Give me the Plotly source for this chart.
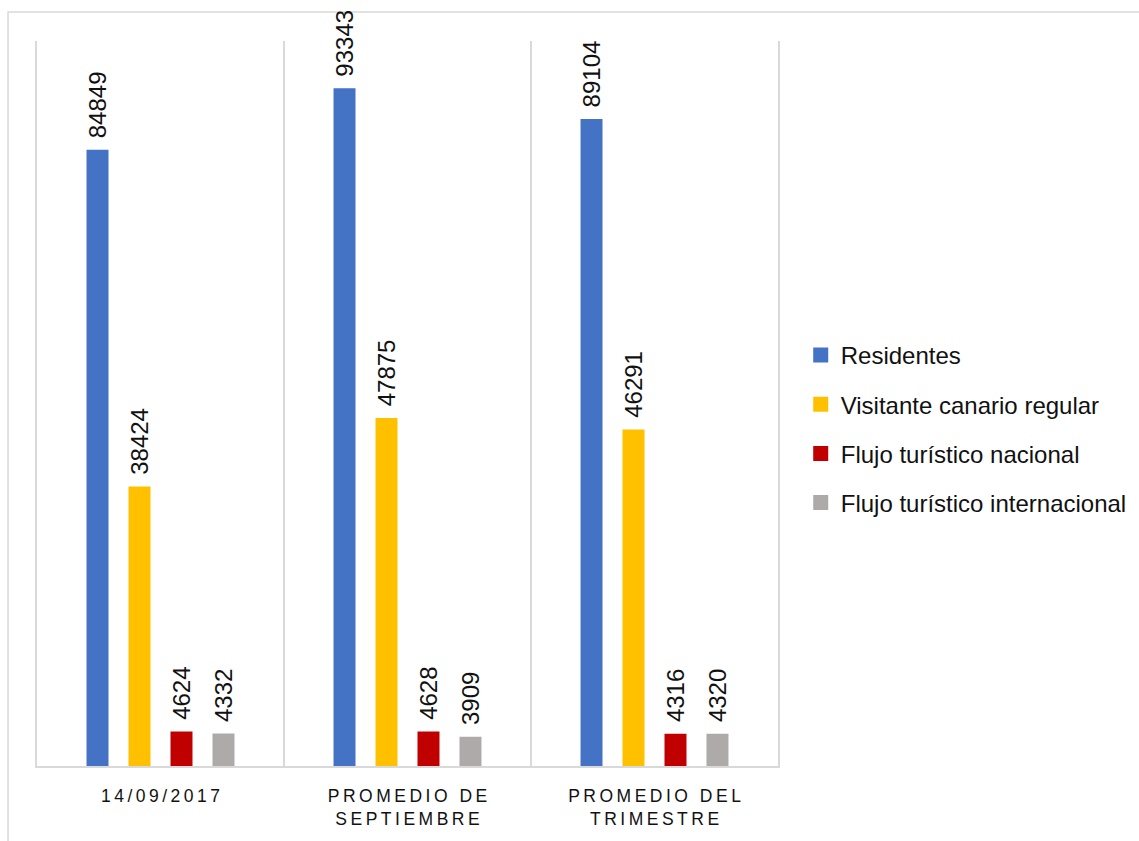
import plotly.graph_objects as go

# Categories (axis labels) and the four visitor series
categories = ["14/09/2017", "PROMEDIO DE<br>SEPTIEMBRE", "PROMEDIO DEL<br>TRIMESTRE"]
series_names = [
    "Residentes",
    "Visitante canario regular",
    "Flujo turístico nacional",
    "Flujo turístico internacional",
]
residentes = [84849, 93343, 89104]
visitante_canario = [38424, 47875, 46291]
flujo_nacional = [4624, 4628, 4316]
flujo_internacional = [4332, 3909, 4320]

series_values = [residentes, visitante_canario, flujo_nacional, flujo_internacional]
series_colors = ["#4472C4", "#FFC000", "#C00000", "#AEAAAA"]

FONT = "Arial, 'Liberation Sans', sans-serif"


def spaced(label):
    """Widen the letter spacing of an axis label with thin spaces."""
    lines = label.split("<br>")
    return "<br>".join("\u2009".join(list(line)) for line in lines)


x_labels = [spaced(c) for c in categories]

fig = go.Figure()
for name, vals, color in zip(series_names, series_values, series_colors):
    fig.add_trace(
        go.Bar(
            x=x_labels,
            y=vals,
            name=name,
            legendgroup=name,
            showlegend=False,
            marker=dict(color=color, line=dict(color=color, width=2)),
            text=[str(v) for v in vals],
            texttemplate="\u2009\u2009%{text}",
            textposition="outside",
            textangle=-90,
            constraintext="none",
            cliponaxis=False,
            textfont=dict(family=FONT, size=24, color="#111111"),
        )
    )

# Legend entries with larger square swatches
for name, color in zip(series_names, series_colors):
    fig.add_trace(
        go.Scatter(
            x=[None],
            y=[None],
            mode="markers",
            name=name,
            legendgroup=name,
            marker=dict(symbol="square", size=15, color=color),
            hoverinfo="skip",
        )
    )

fig.update_layout(
    width=1139,
    height=841,
    margin=dict(l=37, r=361, t=41, b=73),
    paper_bgcolor="white",
    plot_bgcolor="white",
    barmode="group",
    bargap=0.32,
    bargroupgap=0.524,
    font=dict(family=FONT, color="#111111"),
    legend=dict(
        xref="container",
        yref="container",
        x=0.703,
        y=0.49,
        xanchor="left",
        yanchor="middle",
        font=dict(family=FONT, size=24, color="#111111"),
        tracegroupgap=15,
        bgcolor="rgba(0,0,0,0)",
    ),
    xaxis=dict(
        type="category",
        tickfont=dict(family=FONT, size=17.5, color="#111111"),
        tickson="boundaries",
        ticks="",
        showgrid=True,
        gridcolor="#d9d9d9",
        gridwidth=1.5,
        showline=True,
        linecolor="#d9d9d9",
        linewidth=1.5,
        ticklabelstandoff=13,
        zeroline=False,
    ),
    yaxis=dict(
        range=[0, 100000],
        showticklabels=False,
        showgrid=False,
        zeroline=False,
        ticks="",
        showline=True,
        mirror=True,
        linecolor="#d9d9d9",
        linewidth=1.5,
    ),
    shapes=[
        dict(
            type="rect",
            xref="paper",
            yref="paper",
            x0=-0.0391,
            x1=1.5,
            y0=-0.12,
            y1=1.0399,
            line=dict(color="#d9d9d9", width=1.5),
            fillcolor="rgba(0,0,0,0)",
            layer="below",
        )
    ],
)

fig.write_html("out.html")
